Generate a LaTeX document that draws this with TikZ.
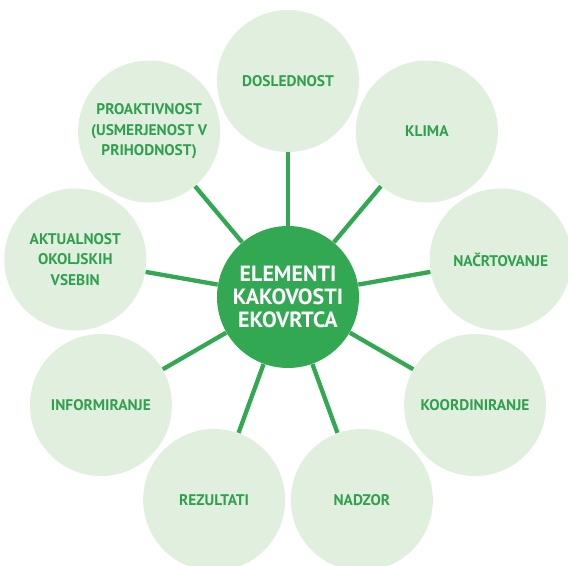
\documentclass[tikz,border=0pt]{standalone}
\usepackage{fontspec}
\setmainfont{PT Sans}
\usetikzlibrary{positioning}
\definecolor{ekogreen}{RGB}{51,168,82}
\definecolor{ekolight}{RGB}{224,239,222}

\begin{document}
\begin{tikzpicture}[x=0.5pt,y=0.5pt,
	hub/.style={circle,fill=ekogreen,minimum size=71pt,inner sep=0pt,align=center,
		text=white,font=\bfseries\fontsize{11}{11.6}\selectfont},
	petal/.style={circle,fill=ekolight,minimum size=71pt,inner sep=0pt,align=center,
		text=ekogreen!95!black,font=\bfseries\fontsize{7.7}{10.2}\selectfont},
	spoke/.style={draw=ekogreen,line width=2.15pt}]
		%Frame of the picture
		\useasboundingbox (-288,297) rectangle (280,-269);
		%Hub in the middle
		\node[hub] (hub) at (0,0) {ELEMENTI\\KAKOVOSTI\\EKOVRTCA};
		%Petals round the hub
		\foreach \ang/\nm/\txt in {90/dosl/{DOSLEDNOST},
			50/klima/{KLIMA},
			10/nacrt/{NAČRTOVANJE},
			-30/koord/{KOORDINIRANJE},
			-70/nadzor/{NADZOR},
			-110/rez/{REZULTATI},
			-150/info/{INFORMIRANJE},
			170/aktual/{AKTUALNOST\\OKOLJSKIH\\VSEBIN},
			130/proakt/{PROAKTIVNOST\\(USMERJENOST V\\PRIHODNOST)}}
		{
		\node[petal] (\nm) at (\ang:216) {\txt};
		\draw[spoke] (hub) -- (\nm);
		}
\end{tikzpicture}
\end{document}
